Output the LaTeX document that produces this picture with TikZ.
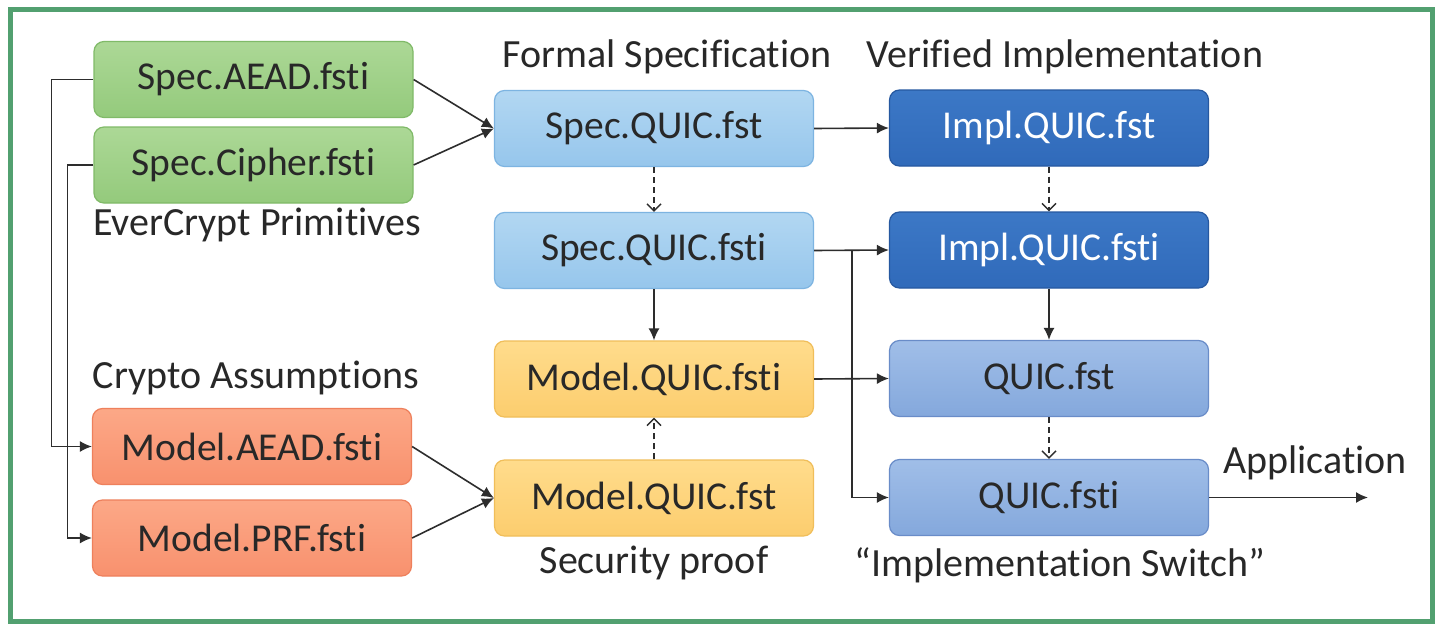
\documentclass[tikz,border=0pt]{standalone}
\usepackage{fontspec}
\setmainfont{Carlito}[Ligatures={NoCommon}]
\usetikzlibrary{arrows.meta}
\definecolor{frame}{RGB}{82,160,112}
\definecolor{txt}{RGB}{40,40,40}
\definecolor{lnc}{RGB}{45,45,45}
\definecolor{grT}{RGB}{172,216,150}\definecolor{grB}{RGB}{148,202,124}\definecolor{grD}{RGB}{128,186,104}
\definecolor{lbT}{RGB}{178,215,242}\definecolor{lbB}{RGB}{150,198,236}\definecolor{lbD}{RGB}{125,180,225}
\definecolor{dbT}{RGB}{60,120,198}\definecolor{dbB}{RGB}{48,106,186}\definecolor{dbD}{RGB}{38,88,160}
\definecolor{mbT}{RGB}{160,190,232}\definecolor{mbB}{RGB}{132,168,220}\definecolor{mbD}{RGB}{105,140,200}
\definecolor{yeT}{RGB}{255,220,140}\definecolor{yeB}{RGB}{252,205,110}\definecolor{yeD}{RGB}{240,190,90}
\definecolor{orT}{RGB}{252,168,135}\definecolor{orB}{RGB}{248,145,110}\definecolor{orD}{RGB}{238,128,92}
\begin{document}
\begin{tikzpicture}[x=1pt,y=-1pt,
  box/.style={rounded corners=10pt, minimum width=319pt, minimum height=76pt, inner sep=0pt,
    line width=1.2pt, font=\fontsize{39.5}{42}\selectfont, text=txt},
  green/.style={box, draw=grD, top color=grT, bottom color=grB},
  lblue/.style={box, draw=lbD, top color=lbT, bottom color=lbB},
  dblue/.style={box, draw=dbD, top color=dbT, bottom color=dbB, text=white},
  mblue/.style={box, draw=mbD, top color=mbT, bottom color=mbB},
  yell/.style={box, draw=yeD, top color=yeT, bottom color=yeB},
  oran/.style={box, draw=orD, top color=orT, bottom color=orB},
  lbl/.style={font=\fontsize{40}{42}\selectfont, text=txt, inner sep=0pt},
  conn/.style={draw=lnc, line width=1.6pt, -{Latex[length=12pt,width=11pt]}},
  dconn/.style={draw=lnc, line width=1.4pt, dash pattern=on 6pt off 4pt, -{Straight Barb[length=7pt,width=14pt]}}]
\useasboundingbox (0,0) rectangle (1435,624);
\fill[white] (0,0) rectangle (1435,624);
\draw[frame, line width=5pt] (10.5,9.5) rectangle (1432,621.5);

% column 1
\node[green] (sa) at (253.5,79.5) {Spec.AEAD.fsti};
\node[green] (sc) at (253.5,165) {Spec.Cipher.fsti};
\node[lbl] (ecp) at (257,225) {EverCrypt Primitives};
\node[lbl] (cas) at (256,378) {Crypto Assumptions};
\node[oran] (ma) at (252,446.5) {Model.AEAD.fsti};
\node[oran] (mp) at (252,538) {Model.PRF.fsti};

% column 2
\node[lbl] (fs) at (667,57) {Formal Specification};
\node[lblue] (sqf) at (654,128.5) {Spec.QUIC.fst};
\node[lblue] (sqi) at (654,250.5) {Spec.QUIC.fsti};
\node[yell] (mqi) at (654,379) {Model.QUIC.fsti};
\node[yell] (mqf) at (654,498) {Model.QUIC.fst};
\node[lbl] (sp) at (654,563) {Security proof};

% column 3
\node[lbl] (vi) at (1065,57) {Verified Implementation};
\node[dblue] (iqf) at (1049,128) {Impl.QUIC.fst};
\node[dblue] (iqi) at (1049,250) {Impl.QUIC.fsti};
\node[mblue] (qf) at (1049,378.5) {QUIC.fst};
\node[mblue] (qi) at (1049,497.5) {QUIC.fsti};
\node[lbl] (isw) at (1060,565) {``Implementation Switch''};
\node[lbl] (app) at (1315,463) {Application};

% connectors
\draw[conn] (sa.east) -- (sqf.west);
\draw[conn] (sc.east) -- (sqf.west);
\draw[conn] (ma.east) -- (mqf.west);
\draw[conn] (mp.east) -- (mqf.west);
\draw[conn] (sa.west) -- ++(-42,0) |- (ma.west);
\draw[conn] (sc.west) -- ++(-26,0) |- (mp.west);

\draw[dconn] (sqf.south) -- (sqi.north);
\draw[conn] (sqi.south) -- (mqi.north);
\draw[dconn] (mqf.north) -- (mqi.south);

\draw[conn] (sqf.east) -- (iqf.west);
\draw[conn] (sqi.east) -- (iqi.west);
\coordinate (br) at (852,250.5);
\draw[conn] (br) |- (qi.west);
\draw[conn] (mqi.east) -- (qf.west);

\draw[dconn] (iqf.south) -- (iqi.north);
\draw[conn] (iqi.south) -- (qf.north);
\draw[dconn] (qf.south) -- (qi.north);

\coordinate (append) at (1368,497.5);
\draw[conn] (qi.east) -- (append);
\end{tikzpicture}
\end{document}
